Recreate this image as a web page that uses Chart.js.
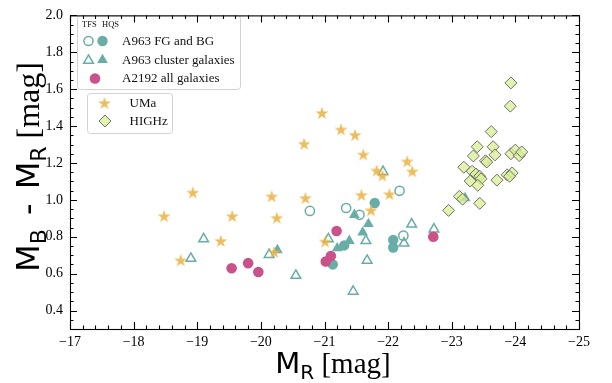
<!DOCTYPE html>
<html>
<head>
<meta charset="utf-8">
<script src="https://cdn.jsdelivr.net/npm/chart.js@4/dist/chart.umd.min.js"></script>
<style>
  html, body { margin: 0; padding: 0; background: #ffffff; }
  #wrap { width: 612px; height: 383px; }
</style>
</head>
<body>
<div id="wrap"><canvas id="c" width="612" height="383"></canvas></div>
<script>
// Tick labels
const X_TICKS = [-17, -18, -19, -20, -21, -22, -23, -24, -25];
const Y_TICKS = [0.4, 0.6, 0.8, 1.0, 1.2, 1.4, 1.6, 1.8, 2.0];

// Series: [M_R, M_B - M_R]
const A963_FGBG_TFS = [[-20.77, 0.94], [-21.34, 0.956], [-21.55, 0.919], [-22.18, 1.049], [-22.24, 0.806]];
const A963_FGBG_HQS = [[-21.79, 0.983], [-21.31, 0.753], [-21.13, 0.65], [-22.08, 0.783], [-22.08, 0.742]];
const A963_CLUSTER_TFS = [[-18.90, 0.682], [-19.10, 0.788], [-20.13, 0.703], [-20.55, 0.59], [-21.06, 0.788],
  [-21.65, 0.778], [-21.67, 0.671], [-21.45, 0.504], [-21.92, 1.153], [-22.37, 0.868], [-22.72, 0.841], [-22.25, 0.765]];
const A963_CLUSTER_HQS = [[-20.26, 0.728], [-21.20, 0.738], [-21.39, 0.778], [-21.47, 0.919], [-21.60, 0.823],
  [-21.69, 0.87], [-23.21, 1.01]];
const A2192_ALL = [[-19.54, 0.629], [-19.80, 0.657], [-19.96, 0.609], [-21.19, 0.831], [-21.10, 0.696],
  [-21.02, 0.666], [-22.71, 0.80]];
const UMA = [[-18.48, 0.912], [-18.74, 0.673], [-18.93, 1.04], [-19.37, 0.778], [-19.55, 0.912], [-20.17, 1.019],
  [-20.25, 0.903], [-20.21, 0.717], [-20.68, 1.304], [-20.96, 1.471], [-21.26, 1.382], [-21.48, 1.352],
  [-21.61, 1.246], [-21.82, 1.159], [-21.91, 1.132], [-22.30, 1.209], [-22.38, 1.155], [-20.70, 1.010],
  [-21.58, 1.027], [-22.02, 1.031], [-21.73, 0.944], [-21.01, 0.774]];
const HIGHZ = [[-23.93, 1.634], [-23.92, 1.508], [-23.62, 1.37], [-23.40, 1.288], [-23.65, 1.288], [-23.34, 1.238],
  [-23.68, 1.244], [-23.53, 1.212], [-23.55, 1.205], [-23.93, 1.25], [-24.00, 1.27], [-24.06, 1.24],
  [-24.10, 1.26], [-23.19, 1.177], [-23.32, 1.155], [-23.38, 1.14], [-23.44, 1.128], [-23.46, 1.114],
  [-23.29, 1.102], [-23.41, 1.079], [-23.71, 1.107], [-23.87, 1.136], [-23.95, 1.146], [-23.91, 1.128],
  [-23.12, 1.019], [-23.17, 1.004], [-23.44, 0.981], [-22.95, 0.943]];

const TEAL = '#68aea6';
const PINK = '#c9528a';
const GOLD = 'rgba(232,180,72,0.88)';
const LIME = 'rgba(218,240,150,0.78)';
const EDGE = '#6e6e6e';

const SERIF = '"Liberation Serif", "Times New Roman", serif';
const SANS = '"DejaVu Sans", sans-serif';

function pts(arr) { return arr.map(p => ({ x: p[0], y: p[1] })); }

// Filled five-point star sprite used as a point style
function starSprite(R, color) {
  const s = Math.ceil(2 * R + 2);
  const c = document.createElement('canvas');
  c.width = s; c.height = s;
  const g = c.getContext('2d');
  g.translate(s / 2, s / 2 + 0.6);
  g.beginPath();
  const r = R * 0.382;
  for (let k = 0; k < 10; k++) {
    const ang = -Math.PI / 2 + k * Math.PI / 5;
    const rr = (k % 2) ? r : R;
    g.lineTo(rr * Math.cos(ang), rr * Math.sin(ang));
  }
  g.closePath();
  g.fillStyle = color;
  g.fill();
  return c;
}
const STAR = starSprite(6.8, GOLD);

const datasets = [
  { label: 'A963 FG and BG', data: pts(A963_FGBG_TFS), pointStyle: 'circle', pointRadius: 4.6,
    backgroundColor: 'rgba(0,0,0,0)', borderColor: TEAL, borderWidth: 1.5, order: 6 },
  { label: 'A963 FG and BG (HQS)', data: pts(A963_FGBG_HQS), pointStyle: 'circle', pointRadius: 5.2,
    backgroundColor: TEAL, borderColor: TEAL, borderWidth: 0, order: 5 },
  { label: 'A963 cluster galaxies', data: pts(A963_CLUSTER_TFS), pointStyle: 'triangle', pointRadius: 5.6,
    backgroundColor: 'rgba(0,0,0,0)', borderColor: TEAL, borderWidth: 1.5, order: 4 },
  { label: 'A963 cluster galaxies (HQS)', data: pts(A963_CLUSTER_HQS), pointStyle: 'triangle', pointRadius: 6.2,
    backgroundColor: TEAL, borderColor: TEAL, borderWidth: 0, order: 3 },
  { label: 'A2192 all galaxies', data: pts(A2192_ALL), pointStyle: 'circle', pointRadius: 5.3,
    backgroundColor: PINK, borderColor: PINK, borderWidth: 0, order: 2 },
  { label: 'UMa', data: pts(UMA), pointStyle: STAR, pointRadius: 6,
    backgroundColor: GOLD, borderColor: GOLD, borderWidth: 0, order: 1 },
  { label: 'HIGHz', data: pts(HIGHZ), pointStyle: 'rectRot', pointRadius: 6,
    backgroundColor: LIME, borderColor: EDGE, borderWidth: 1, order: 0 }
];

// Marker painter for the legend boxes (mirrors the dataset point styles)
function marker(ctx, ds, x, y) {
  ctx.save();
  const r = ds.pointRadius;
  if (ds.pointStyle instanceof HTMLCanvasElement) {
    ctx.drawImage(ds.pointStyle, x - ds.pointStyle.width / 2, y - ds.pointStyle.height / 2);
    ctx.restore();
    return;
  }
  ctx.beginPath();
  if (ds.pointStyle === 'circle') {
    ctx.arc(x, y, r, 0, Math.PI * 2);
  } else if (ds.pointStyle === 'triangle') {
    let a = 0;
    ctx.moveTo(x + Math.sin(a) * r, y - Math.cos(a) * r);
    a += 2 * Math.PI / 3;
    ctx.lineTo(x + Math.sin(a) * r, y - Math.cos(a) * r);
    a += 2 * Math.PI / 3;
    ctx.lineTo(x + Math.sin(a) * r, y - Math.cos(a) * r);
  } else if (ds.pointStyle === 'rectRot') {
    ctx.moveTo(x - r, y); ctx.lineTo(x, y - r); ctx.lineTo(x + r, y); ctx.lineTo(x, y + r);
  }
  ctx.closePath();
  ctx.fillStyle = ds.backgroundColor;
  ctx.fill();
  if (ds.borderWidth > 0) {
    ctx.lineWidth = ds.borderWidth;
    ctx.strokeStyle = ds.borderColor;
    ctx.stroke();
  }
  ctx.restore();
}

function roundBox(ctx, x0, y0, x1, y1, rad) {
  ctx.save();
  ctx.beginPath();
  ctx.moveTo(x0 + rad, y0);
  ctx.arcTo(x1, y0, x1, y1, rad);
  ctx.arcTo(x1, y1, x0, y1, rad);
  ctx.arcTo(x0, y1, x0, y0, rad);
  ctx.arcTo(x0, y0, x1, y0, rad);
  ctx.closePath();
  ctx.fillStyle = 'rgba(255,255,255,0.85)';
  ctx.fill();
  ctx.lineWidth = 1;
  ctx.strokeStyle = '#d2d2d2';
  ctx.stroke();
  ctx.restore();
}

const legendBoxes = {
  id: 'legendBoxes',
  afterDatasetsDraw(chart) {
    const ctx = chart.ctx;
    const ds = chart.data.datasets;
    // first box: TFS / HQS samples
    roundBox(ctx, 77.5, 15.5, 240.5, 89.5, 3);
    ctx.save();
    ctx.fillStyle = '#111';
    ctx.textBaseline = 'middle';
    ctx.font = '8.5px ' + SERIF;
    ctx.fillText('TFS', 82, 24.5);
    ctx.fillText('HQS', 102, 24.5);
    ctx.font = '13px ' + SERIF;
    marker(ctx, ds[0], 88.5, 41);
    marker(ctx, ds[1], 102.5, 41);
    ctx.fillText(ds[0].label, 122, 41.5);
    marker(ctx, ds[2], 88.5, 60.5);
    marker(ctx, ds[3], 102.5, 60);
    ctx.fillText(ds[2].label, 122, 60.5);
    marker(ctx, ds[4], 95, 78.5);
    ctx.fillText(ds[4].label, 122, 78.5);
    ctx.restore();
    // second box: comparison samples
    roundBox(ctx, 87.5, 93.5, 172.5, 133.5, 3);
    ctx.save();
    ctx.fillStyle = '#111';
    ctx.textBaseline = 'middle';
    ctx.font = '13px ' + SERIF;
    marker(ctx, ds[5], 104.5, 103);
    ctx.fillText(ds[5].label, 129.5, 103.5);
    marker(ctx, ds[6], 105, 121);
    ctx.fillText(ds[6].label, 129.5, 121.5);
    ctx.restore();
  }
};

// Frame with inward major/minor ticks on all four sides, plus axis titles
const frameAndTitles = {
  id: 'frameAndTitles',
  afterDraw(chart) {
    const { ctx, chartArea: a } = chart;
    const xs = chart.scales.x, ys = chart.scales.y;
    ctx.save();
    ctx.strokeStyle = '#000';
    ctx.lineWidth = 1.1;
    ctx.strokeRect(a.left + 0.5, a.top + 0.5, a.right - a.left, a.bottom - a.top);
    ctx.beginPath();
    for (let i = 0; i <= 40; i++) {
      const v = -17 - i * 0.2;
      const px = Math.round(xs.getPixelForValue(v)) + 0.5;
      const len = (i % 5 === 0) ? 7 : 3.5;
      ctx.moveTo(px, a.bottom); ctx.lineTo(px, a.bottom - len);
      ctx.moveTo(px, a.top); ctx.lineTo(px, a.top + len);
    }
    for (let j = 0; j <= 34; j++) {
      const v = 0.3 + j * 0.05;
      const py = Math.round(ys.getPixelForValue(v)) + 0.5;
      const major = Math.round(v * 100) % 20 === 0;
      const len = major ? 7 : 3.5;
      ctx.moveTo(a.left, py); ctx.lineTo(a.left + len, py);
      ctx.moveTo(a.right, py); ctx.lineTo(a.right - len, py);
    }
    ctx.stroke();

    // axis titles with subscripts
    const title = (big, sub, dash) => {
      const parts = [{ t: 'M', f: big + 'px ' + SANS, dy: 0 },
                     { t: dash ? 'B' : 'R', f: sub + 'px ' + SANS, dy: Math.round(big * 0.22) }];
      if (dash) {
        parts.push({ t: ' - ', f: big + 'px ' + SANS, dy: 0, pad: 8 });
        parts.push({ t: 'M', f: big + 'px ' + SANS, dy: 0 });
        parts.push({ t: 'R', f: sub + 'px ' + SANS, dy: Math.round(big * 0.22) });
      }
      parts.push({ t: ' [mag]', f: big + 'px ' + SERIF, dy: 0 });
      return parts;
    };
    const drawParts = (parts, cx, base) => {
      let w = 0;
      parts.forEach(p => { ctx.font = p.f; p.w = ctx.measureText(p.t).width + (p.pad || 0); w += p.w; });
      let x = cx - w / 2;
      ctx.textBaseline = 'alphabetic';
      ctx.textAlign = 'left';
      parts.forEach(p => {
        ctx.font = p.f;
        ctx.fillText(p.t, x + (p.pad || 0) / 2, base + p.dy);
        x += p.w;
      });
    };
    ctx.fillStyle = '#000';
    drawParts(title(29, 20, false), 333, 373);
    ctx.translate(39, 167);
    ctx.rotate(-Math.PI / 2);
    drawParts(title(32, 22, true), 0, 0);
    ctx.restore();
  }
};

new Chart(document.getElementById('c'), {
  type: 'scatter',
  data: { datasets },
  options: {
    responsive: false,
    animation: false,
    devicePixelRatio: 1,
    events: [],
    layout: { padding: { top: 9, right: 33, left: 0, bottom: 0 } },
    plugins: { legend: { display: false }, tooltip: { enabled: false } },
    scales: {
      x: {
        type: 'linear', min: -25, max: -17, reverse: true,
        grid: { display: false, drawTicks: false },
        border: { display: false },
        afterBuildTicks: s => { s.ticks = X_TICKS.map(v => ({ value: v })); },
        afterFit: s => { s.height = 54; },
        ticks: {
          autoSkip: false, maxRotation: 0, padding: 5, color: '#000',
          font: { family: SERIF, size: 14 },
          callback: v => '\u2212' + Math.abs(v)
        }
      },
      y: {
        type: 'linear', min: 0.3, max: 2.0,
        grid: { display: false, drawTicks: false },
        border: { display: false },
        afterBuildTicks: s => { s.ticks = Y_TICKS.map(v => ({ value: v })); },
        afterFit: s => { s.width = 70; },
        ticks: {
          autoSkip: false, padding: 7, color: '#000',
          font: { family: SERIF, size: 14 },
          callback: v => Number(v).toFixed(1)
        }
      }
    }
  },
  plugins: [legendBoxes, frameAndTitles]
});
</script>
</body>
</html>
